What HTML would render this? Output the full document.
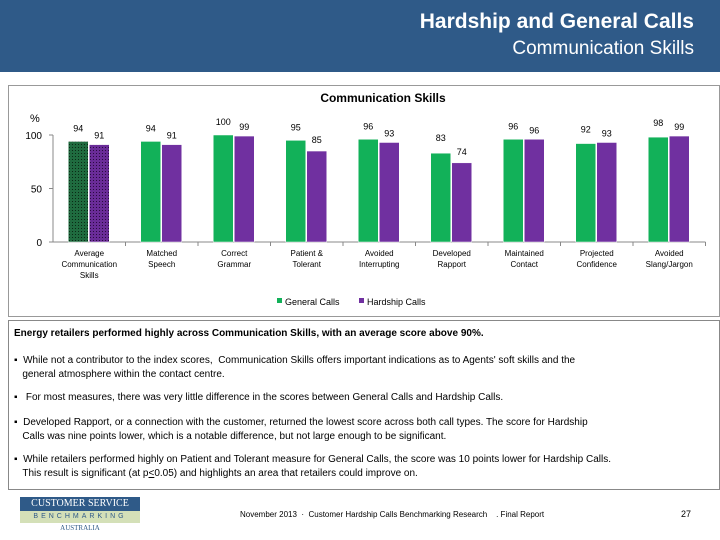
<!DOCTYPE html>
<html><head><meta charset="utf-8"><style>
body{margin:0;width:720px;height:540px;background:#fff;font-family:"Liberation Sans",sans-serif;position:relative;overflow:hidden}
.hdr{position:absolute;left:0;top:0;width:720px;height:72px;background:#2f5a88}
.t1{position:absolute;right:26px;top:10px;color:#fff;font-size:21px;font-weight:bold}
.t2{position:absolute;right:26px;top:38px;color:#fff;font-size:19px}
.box{position:absolute;border:1px solid #999}
.txt{position:absolute;font-size:10px;color:#000;line-height:14px}
</style></head><body>
<div class="hdr">
<div class="t1">Hardship and General Calls</div>
<div class="t2">Communication Skills</div></div>
<div class="box" style="left:8px;top:85px;width:710px;height:230px"></div>
<svg style="position:absolute;left:0;top:0" width="720" height="320" id="ch">
<defs>
<pattern id="pg" width="3" height="3" patternUnits="userSpaceOnUse"><rect width="3" height="3" fill="#1f6b3f"/><rect width="1" height="1" fill="#0a2a15"/></pattern>
<pattern id="pp" width="3" height="3" patternUnits="userSpaceOnUse"><rect width="3" height="3" fill="#6a2c98"/><rect width="1" height="1" fill="#2a0a40"/></pattern>
</defs>
</svg>
<div class="box" style="left:8px;top:320px;width:710px;height:168px;border-color:#888"></div>
<div class="txt" style="left:14px;top:327px;font-weight:bold">Energy retailers performed highly across Communication Skills, with an average score above 90%.</div>
<div class="txt" style="left:14px;top:354px;width:690px">▪ &nbsp;While not a contributor to the index scores, &nbsp;Communication Skills offers important indications as to Agents' soft skills and the<br>&nbsp;&nbsp;&nbsp;general atmosphere within the contact centre.</div>
<div class="txt" style="left:14px;top:391px">▪ &nbsp;&nbsp;For most measures, there was very little difference in the scores between General Calls and Hardship Calls.</div>
<div class="txt" style="left:14px;top:416px;width:690px">▪ &nbsp;Developed Rapport, or a connection with the customer, returned the lowest score across both call types. The score for Hardship<br>&nbsp;&nbsp;&nbsp;Calls was nine points lower, which is a notable difference, but not large enough to be significant.</div>
<div class="txt" style="left:14px;top:453px;width:700px">▪ &nbsp;While retailers performed highly on Patient and Tolerant measure for General Calls, the score was 10 points lower for Hardship Calls.<br>&nbsp;&nbsp;&nbsp;This result is significant (at p<u>&lt;</u>0.05) and highlights an area that retailers could improve on.</div>
<div style="position:absolute;left:20px;top:497px;width:120px;height:14px;background:#2f5a88;color:#fff;font-size:10px;text-align:center;line-height:14px;font-family:'Liberation Serif',serif">CUSTOMER SERVICE</div>
<div style="position:absolute;left:20px;top:511px;width:120px;height:12px;background:#d4e0b8;color:#2f5a88;font-size:7px;text-align:center;line-height:12px;letter-spacing:3px">BENCHMARKING</div>
<div style="position:absolute;left:20px;top:524px;width:120px;font-size:7px;text-align:center;color:#2f5a88;font-family:'Liberation Serif',serif">AUSTRALIA</div>
<div class="txt" style="left:240px;top:508px;font-size:8px">November 2013 &nbsp;· &nbsp;Customer Hardship Calls Benchmarking Research &nbsp;&nbsp;&nbsp;. Final Report</div>
<div class="txt" style="left:681px;top:507px;font-size:9px">27</div>
<script>
const categories=[["Average","Communication","Skills"],["Matched","Speech"],["Correct","Grammar"],["Patient &","Tolerant"],["Avoided","Interrupting"],["Developed","Rapport"],["Maintained","Contact"],["Projected","Confidence"],["Avoided","Slang/Jargon"]];
const generalCalls=[94,94,100,95,96,83,96,92,98];
const hardshipCalls=[91,91,99,85,93,74,96,93,99];
const yTicks=[0,50,100];
const svg=document.getElementById('ch');const NS='http://www.w3.org/2000/svg';
const x0=53,step=72.5,y0=242,k=1.07;
const y=v=>y0-v*k;
function mk(t,a,txt){const e=document.createElementNS(NS,t);for(const n in a)e.setAttribute(n,a[n]);if(txt!=null)e.textContent=txt;svg.appendChild(e);return e;}
let e=mk('text',{x:383,y:102,'text-anchor':'middle','font-size':12,'font-weight':'bold'},'Communication Skills');


e=mk('text',{x:30,y:122,'font-size':11},'%');


mk('line',{x1:x0,y1:y(100),x2:x0,y2:y0,stroke:'#888'});
mk('line',{x1:x0,y1:y0,x2:x0+step*9,y2:y0,stroke:'#888'});
yTicks.forEach(t=>{mk('line',{x1:x0-4,x2:x0,y1:y(t),y2:y(t),stroke:'#888'});
e=mk('text',{x:42,y:y(t)+4,'text-anchor':'end','font-size':10},t);

});
categories.forEach((c,i)=>{const cx=x0+step*(i+0.5);
mk('line',{x1:x0+step*(i+1),x2:x0+step*(i+1),y1:y0,y2:y0+4,stroke:'#888'});
[[generalCalls[i],i==0?'url(#pg)':'#12b159',cx-21,'bar-general'],[hardshipCalls[i],i==0?'url(#pp)':'#7030a0',cx+0,'bar-hardship']].forEach(([v,col,bx,nm])=>{
const r=mk('rect',{x:bx,y:y(v),width:20,height:v*k,fill:col,stroke:'#fff','stroke-width':0.5});


const lb=mk('text',{x:bx+10,y:(nm=='bar-general'?y(Math.max(v,hardshipCalls[i]))-10:y(v)-6)+(v<90?-2:0),'text-anchor':'middle','font-size':9},v);

});
c.forEach((l,j)=>{const t=mk('text',{x:cx,y:y0+14+j*11,'text-anchor':'middle','font-size':8},l);

});});
mk('rect',{x:277,y:298,width:5,height:5,fill:'#12b159'});
e=mk('text',{x:285,y:305,'font-size':9},'General Calls');


mk('rect',{x:359,y:298,width:5,height:5,fill:'#7030a0'});
e=mk('text',{x:367,y:305,'font-size':9},'Hardship Calls');


</script>
</body></html>
